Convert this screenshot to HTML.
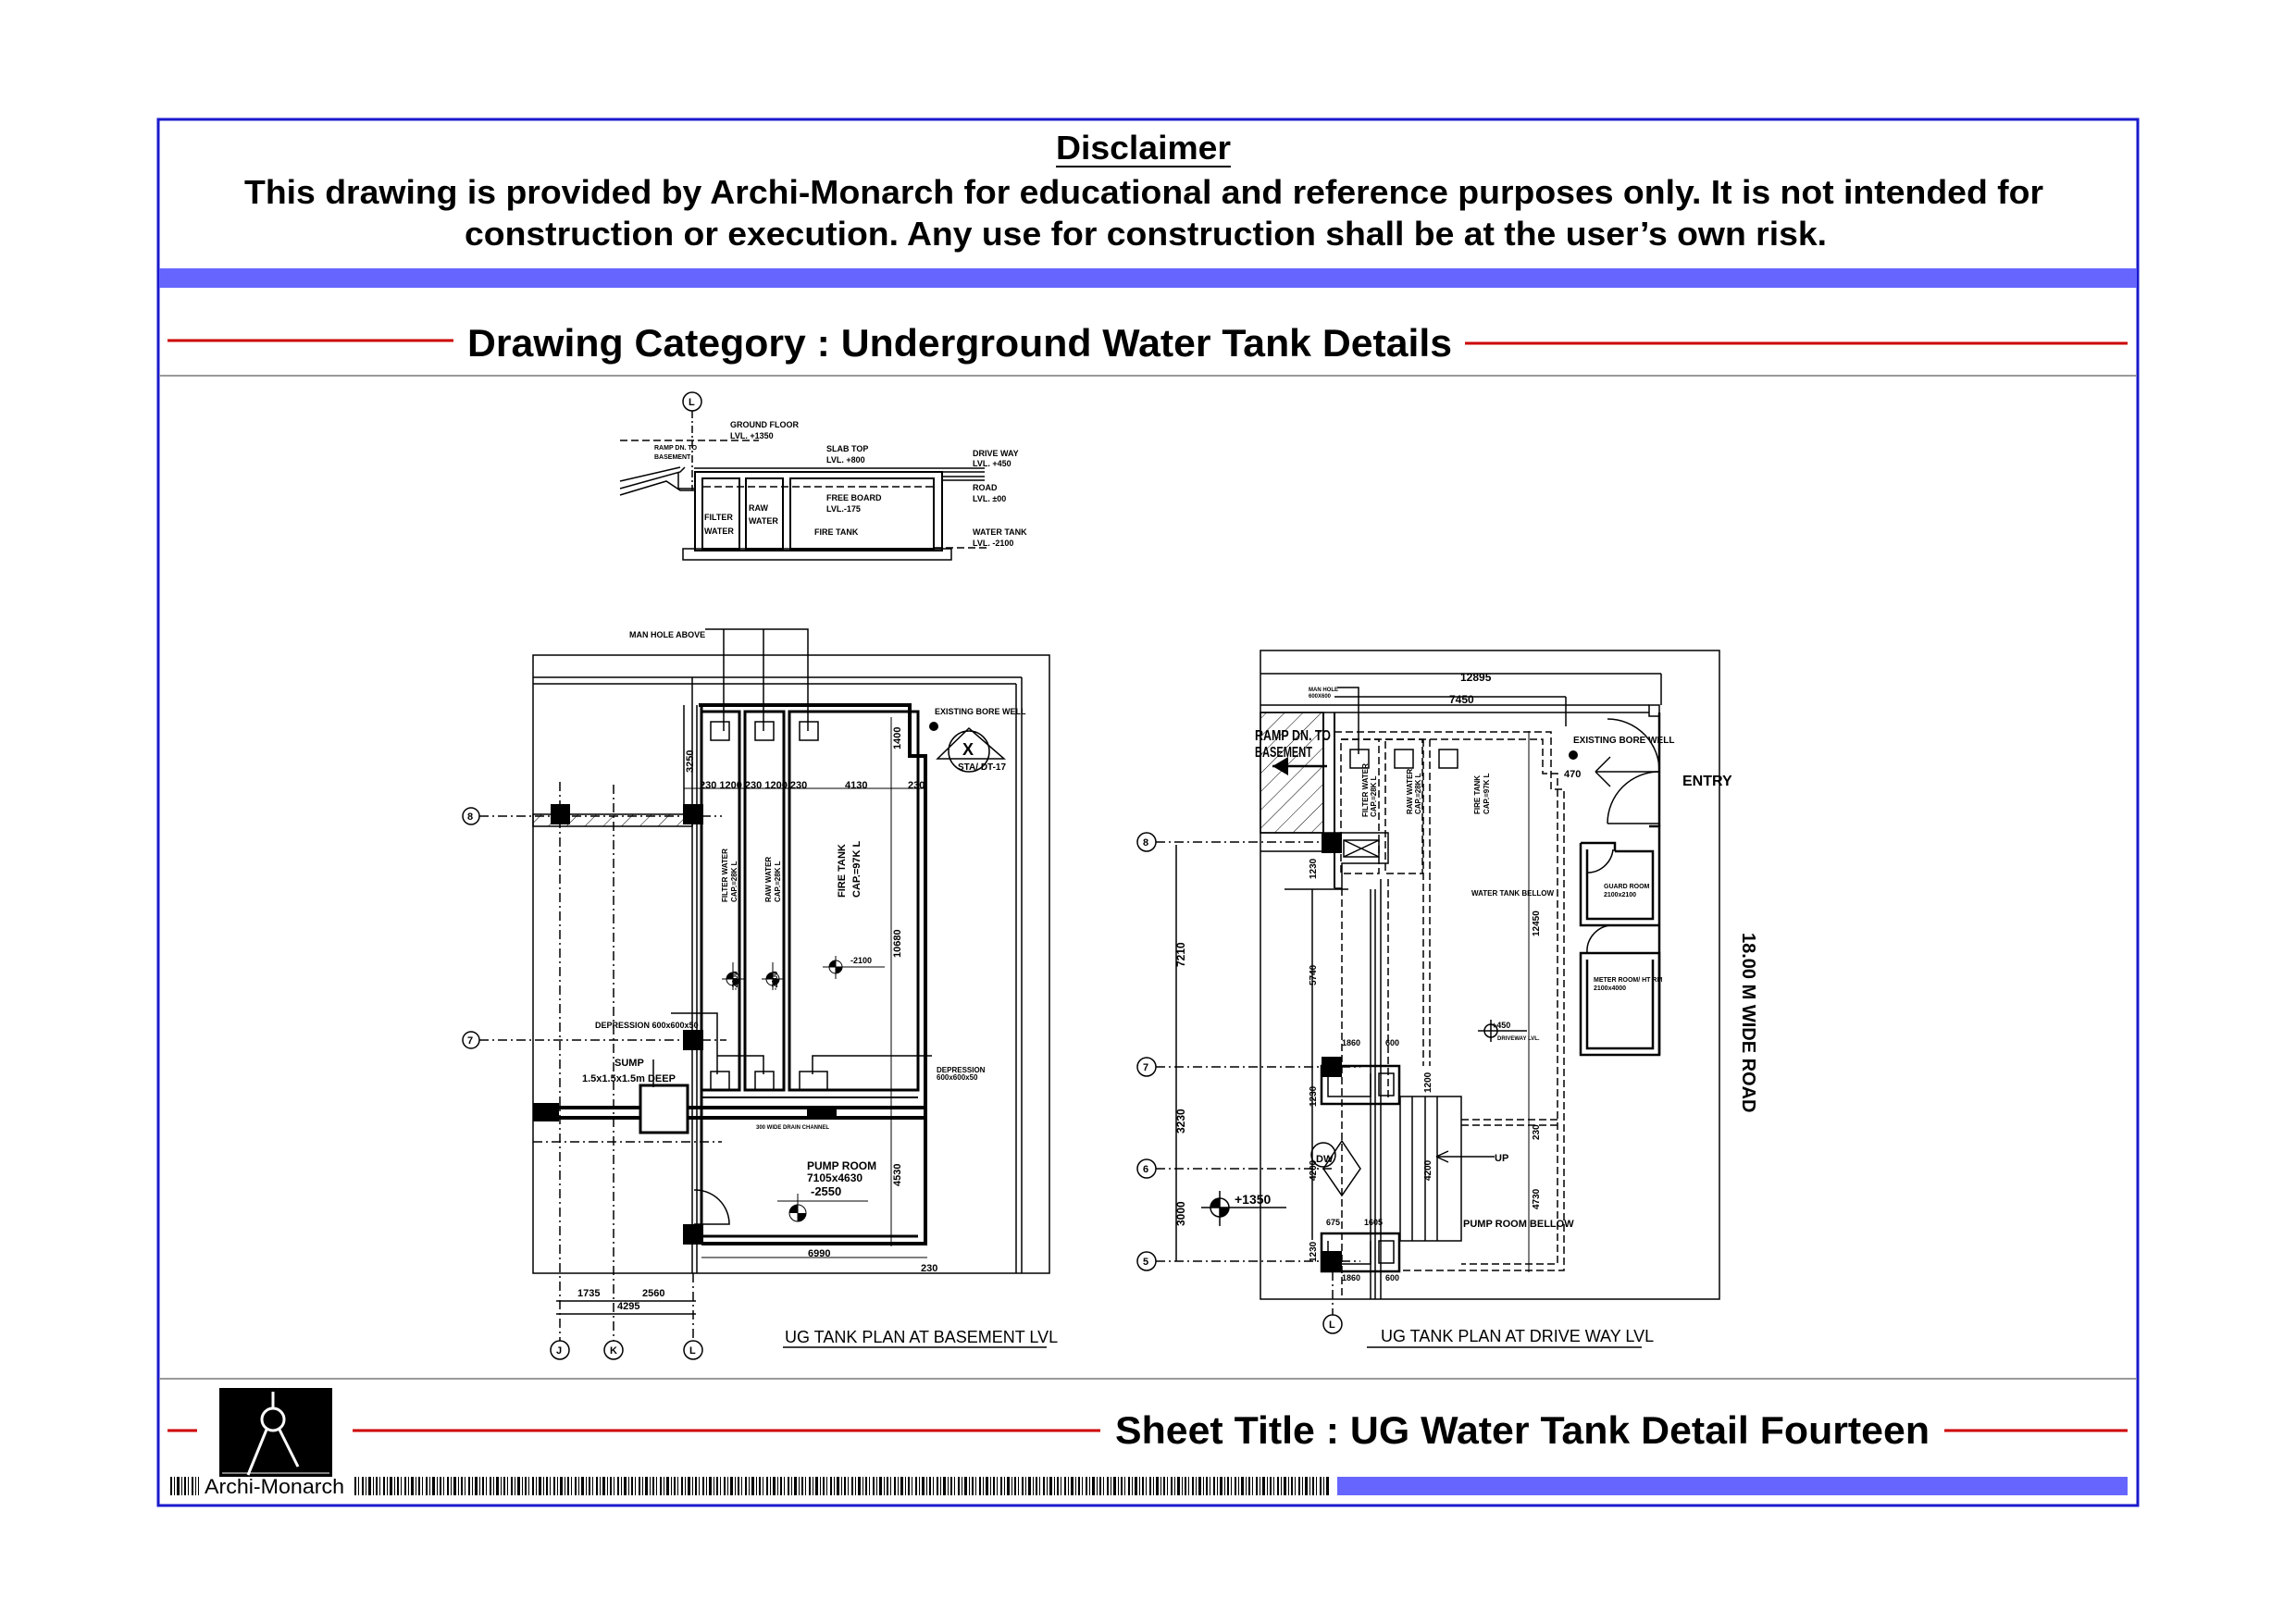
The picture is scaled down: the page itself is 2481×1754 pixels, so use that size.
<!DOCTYPE html>
<html><head><meta charset="utf-8"><style>
html,body{margin:0;padding:0;background:#fff;}
svg{display:block;}
text{font-family:"Liberation Sans",sans-serif;}
</style></head><body>
<svg width="2481" height="1754" viewBox="0 0 2481 1754" xmlns="http://www.w3.org/2000/svg">
<defs>
<pattern id="bc" width="23" height="20" patternUnits="userSpaceOnUse">
<rect x="0" y="0" width="2" height="20" fill="#000"/><rect x="4" y="0" width="1" height="20" fill="#000"/><rect x="7" y="0" width="3" height="20" fill="#000"/><rect x="12" y="0" width="1" height="20" fill="#000"/><rect x="15" y="0" width="2" height="20" fill="#000"/><rect x="19" y="0" width="1" height="20" fill="#000"/>
</pattern>
<pattern id="hat" width="14" height="14" patternUnits="userSpaceOnUse" patternTransform="rotate(45)">
<line x1="0" y1="0" x2="0" y2="14" stroke="#000" stroke-width="1"/></pattern>
</defs>
<!-- frame -->
<rect x="171" y="129" width="2139" height="1498" fill="none" stroke="#1a1acc" stroke-width="3"/>
<rect x="172" y="290" width="2137" height="21" fill="#6666ff"/>
<line x1="172" y1="406" x2="2309" y2="406" stroke="#999" stroke-width="2"/>
<line x1="172" y1="1490" x2="2309" y2="1490" stroke="#999" stroke-width="2"/>
<!-- disclaimer -->
<text x="1141" y="172" font-size="36" font-weight="bold" textLength="189" lengthAdjust="spacingAndGlyphs">Disclaimer</text>
<line x1="1141" y1="180" x2="1330" y2="180" stroke="#000" stroke-width="2"/>
<text x="264" y="220" font-size="36" font-weight="bold" textLength="1944" lengthAdjust="spacingAndGlyphs">This drawing is provided by Archi-Monarch for educational and reference purposes only. It is not intended for</text>
<text x="502" y="265" font-size="36" font-weight="bold" textLength="1472" lengthAdjust="spacingAndGlyphs">construction or execution. Any use for construction shall be at the user’s own risk.</text>
<!-- category -->
<line x1="181" y1="368" x2="490" y2="368" stroke="#c00" stroke-width="3"/>
<line x1="1583" y1="371" x2="2299" y2="371" stroke="#c00" stroke-width="3"/>
<text x="505" y="385" font-size="42" font-weight="bold" textLength="1064" lengthAdjust="spacingAndGlyphs">Drawing Category : Underground Water Tank Details</text>
<!-- footer -->
<line x1="181" y1="1546" x2="213" y2="1546" stroke="#c00" stroke-width="3"/>
<line x1="381" y1="1546" x2="1189" y2="1546" stroke="#c00" stroke-width="3"/>
<line x1="2101" y1="1546" x2="2299" y2="1546" stroke="#c00" stroke-width="3"/>
<text x="1205" y="1560" font-size="42" font-weight="bold" textLength="880" lengthAdjust="spacingAndGlyphs">Sheet Title : UG Water Tank Detail Fourteen</text>
<rect x="237" y="1500" width="122" height="96" fill="#000"/>
<g stroke="#fff" stroke-width="3" fill="none">
<line x1="295" y1="1504" x2="295" y2="1523"/><circle cx="295" cy="1534" r="12"/>
<line x1="288" y1="1545" x2="268" y2="1594"/><line x1="302" y1="1545" x2="322" y2="1585"/>
<line x1="240" y1="1592" x2="356" y2="1592" stroke-width="1"/></g>
<rect x="181" y="1596" width="34" height="20" fill="url(#bc)"/>
<text x="221" y="1614" font-size="22" textLength="151" lengthAdjust="spacingAndGlyphs">Archi-Monarch</text>
<rect x="381" y="1596" width="1056" height="20" fill="url(#bc)"/>
<rect x="1445" y="1596" width="854" height="20" fill="#6666ff"/>

<!-- ===== SECTION ===== -->
<g stroke="#000" fill="none" stroke-width="1.5">
<circle cx="748" cy="434" r="10"/>
<line x1="748" y1="444" x2="748" y2="530" stroke-dasharray="8,3,2,3"/>
<line x1="670" y1="476" x2="820" y2="476" stroke-dasharray="8,4"/>
<line x1="750" y1="506" x2="1064" y2="506"/><line x1="750" y1="510" x2="1064" y2="510"/><line x1="1018" y1="515" x2="1064" y2="515"/>
<line x1="1018" y1="519" x2="1064" y2="519"/>
<rect x="751" y="510" width="267" height="85" stroke-width="2"/>
<path d="M738 593 L1028 593 L1028 605 L738 605 Z"/>
<rect x="759" y="517" width="40" height="76" stroke-width="2"/>
<rect x="806" y="517" width="40" height="76" stroke-width="2"/>
<rect x="854" y="517" width="155" height="76" stroke-width="2"/>
<line x1="760" y1="526" x2="1010" y2="526" stroke-dasharray="8,4"/>
<line x1="1010" y1="592" x2="1070" y2="592" stroke-dasharray="8,4"/>
<path d="M670 528 L735 510 L740 505 M670 520 L735 505 M670 535 L720 520 L735 530 L750 530"/>
<path d="M733 510 L733 528 L750 528"/>
</g>
<g font-size="9" font-weight="bold">
<text x="789" y="462">GROUND FLOOR</text><text x="789" y="474">LVL. +1350</text>
<text x="893" y="488">SLAB TOP</text><text x="893" y="500">LVL. +800</text>
<text x="1051" y="493">DRIVE WAY</text><text x="1051" y="504">LVL. +450</text>
<text x="1051" y="530">ROAD</text><text x="1051" y="542">LVL. ±00</text>
<text x="1051" y="578">WATER TANK</text><text x="1051" y="590">LVL. -2100</text>
<text x="893" y="541">FREE BOARD</text><text x="893" y="553">LVL.-175</text>
<text x="707" y="486" font-size="7">RAMP DN. TO</text><text x="707" y="496" font-size="7">BASEMENT</text>
<text x="761" y="562">FILTER</text><text x="761" y="577">WATER</text>
<text x="809" y="552">RAW</text><text x="809" y="566">WATER</text>
<text x="880" y="578">FIRE TANK</text>
</g>

<!-- ===== BASEMENT PLAN ===== -->
<g stroke="#000" fill="none" stroke-width="1.5">
<rect x="576" y="708" width="558" height="668"/>
<line x1="576" y1="732" x2="1104" y2="732"/><line x1="576" y1="739" x2="1098" y2="739"/>
<line x1="1104" y1="732" x2="1104" y2="1376"/><line x1="1098" y1="739" x2="1098" y2="1376"/>
<line x1="748" y1="732" x2="748" y2="1376"/><line x1="753" y1="762" x2="753" y2="1376"/>
<path d="M755 762 L983 762 L983 817 L1000 817 L1000 1344 L758 1344" stroke-width="4"/>
<rect x="758" y="769" width="41" height="409" stroke-width="3"/>
<rect x="805" y="769" width="42" height="409" stroke-width="3"/>
<rect x="853" y="769" width="139" height="409" stroke-width="3"/>
<line x1="758" y1="762" x2="758" y2="1344" stroke-width="3"/>
<line x1="758" y1="1186" x2="992" y2="1186" stroke-width="2"/>
<line x1="576" y1="1197" x2="1000" y2="1197" stroke-width="4"/>
<line x1="576" y1="1208" x2="1000" y2="1208" stroke-width="4"/>
<line x1="758" y1="1336" x2="992" y2="1336" stroke-width="3"/>
<rect x="692" y="1173" width="51" height="51" stroke-width="3" fill="#fff"/>
<rect x="768" y="780" width="20" height="20"/><rect x="816" y="780" width="20" height="20"/><rect x="864" y="780" width="20" height="20"/>
<path d="M762 680 L873 680 L873 790 M782 680 L782 790 M825 680 L825 790"/>
<rect x="768" y="1158" width="20" height="20"/><rect x="816" y="1158" width="20" height="20"/><rect x="864" y="1158" width="30" height="20"/>
<path d="M725 1095 L775 1095 L775 1161 M775 1141 L825 1141 L825 1161 M878 1161 L878 1141 L1007 1141 M706 1145 L706 1175"/>
<circle cx="509" cy="882" r="9"/><circle cx="509" cy="1124" r="9"/>
<line x1="518" y1="882" x2="780" y2="882" stroke-dasharray="10,4,2,4"/>
<line x1="518" y1="1124" x2="785" y2="1124" stroke-dasharray="10,4,2,4"/>
<line x1="576" y1="1234" x2="780" y2="1234" stroke-dasharray="10,4,2,4"/>
<line x1="605" y1="845" x2="605" y2="1449" stroke-dasharray="10,4,2,4"/>
<line x1="663" y1="848" x2="663" y2="1449" stroke-dasharray="10,4,2,4"/>
<line x1="749" y1="1376" x2="749" y2="1449" stroke-dasharray="10,4,2,4"/>
<circle cx="605" cy="1459" r="10"/><circle cx="663" cy="1459" r="10"/><circle cx="749" cy="1459" r="10"/>
<line x1="601" y1="1406" x2="752" y2="1406"/><line x1="601" y1="1420" x2="752" y2="1420"/>
<line x1="739" y1="762" x2="739" y2="870"/><line x1="739" y1="852" x2="999" y2="852" stroke-width="1"/>
<line x1="963" y1="775" x2="963" y2="1347" stroke-width="1"/>
<line x1="758" y1="1359" x2="1002" y2="1359" stroke-width="1"/>
<path d="M750 1286 A37 37 0 0 1 788 1323 L750 1323"/>
<rect x="576" y="880" width="172" height="13" fill="url(#hat)"/>
<g stroke-width="1"><circle cx="792" cy="1058" r="7"/><line x1="780" y1="1058" x2="804" y2="1058"/><line x1="792" y1="1040" x2="792" y2="1070"/>
<circle cx="835" cy="1058" r="7"/><line x1="823" y1="1058" x2="847" y2="1058"/><line x1="835" y1="1040" x2="835" y2="1070"/>
<circle cx="903" cy="1045" r="7"/><line x1="889" y1="1045" x2="956" y2="1045"/><line x1="903" y1="1033" x2="903" y2="1058"/>
<circle cx="862" cy="1311" r="9"/><line x1="840" y1="1298" x2="938" y2="1298"/><line x1="862" y1="1290" x2="862" y2="1320"/></g>
<circle cx="1047" cy="812" r="22"/><path d="M1013 820 L1047 787 L1085 820 Z"/>
</g>
<g fill="#000">
<rect x="595" y="869" width="21" height="22"/><rect x="738" y="869" width="22" height="22"/>
<rect x="738" y="1113" width="22" height="22"/><rect x="738" y="1323" width="22" height="22"/>
<rect x="872" y="1197" width="32" height="11"/><rect x="576" y="1192" width="28" height="20"/>
<circle cx="1009" cy="785" r="5"/>
<path d="M792 1058 L799 1058 A7 7 0 0 1 792 1065 Z M792 1058 L785 1058 A7 7 0 0 1 792 1051 Z"/>
<path d="M835 1058 L842 1058 A7 7 0 0 1 835 1065 Z M835 1058 L828 1058 A7 7 0 0 1 835 1051 Z"/>
<path d="M903 1045 L910 1045 A7 7 0 0 1 903 1052 Z M903 1045 L896 1045 A7 7 0 0 1 903 1038 Z"/>
<path d="M862 1311 L871 1311 A9 9 0 0 1 862 1320 Z M862 1311 L853 1311 A9 9 0 0 1 862 1302 Z"/>
</g>
<g font-size="9" font-weight="bold">
<text x="680" y="689">MAN HOLE ABOVE</text>
<text x="1010" y="772">EXISTING BORE WELL</text>
<text x="1035" y="832" font-size="10">STA/ DT-17</text>
<text x="1040" y="816" font-size="18">X</text>
<text x="756" y="852" font-size="11">230 1200 230 1200 230</text>
<text x="913" y="852" font-size="11">4130</text><text x="981" y="852" font-size="11">230</text>
<text x="720" y="834" font-size="11" transform="rotate(-90 735 820)">3250</text>
<text x="643" y="1111">DEPRESSION 600x600x50</text>
<text x="1012" y="1159" font-size="8">DEPRESSION</text><text x="1012" y="1167" font-size="8">600x600x50</text>
<text x="664" y="1152" font-size="11">SUMP</text><text x="629" y="1169" font-size="11">1.5x1.5x1.5m DEEP</text>
<text x="817" y="1220" font-size="6">300 WIDE DRAIN CHANNEL</text>
<text x="872" y="1264" font-size="12">PUMP ROOM</text><text x="872" y="1277" font-size="12">7105x4630</text><text x="876" y="1292" font-size="13">-2550</text>
<text x="919" y="1041" font-size="9">-2100</text>
<text x="873" y="1358" font-size="11">6990</text><text x="995" y="1374" font-size="11">230</text>
<text x="624" y="1401" font-size="11">1735</text><text x="694" y="1401" font-size="11">2560</text><text x="667" y="1415" font-size="11">4295</text>
<text x="505" y="886" font-size="11">8</text><text x="505" y="1128" font-size="11">7</text>
<text x="601" y="1463" font-size="11">J</text><text x="659" y="1463" font-size="11">K</text><text x="745" y="1463" font-size="11">L</text>
<text x="744" y="438" font-size="11">L</text>
</g>
<g font-size="8" font-weight="bold">
<text transform="translate(786 975) rotate(-90)">FILTER WATER</text><text transform="translate(796 975) rotate(-90)">CAP.=28K L</text>
<text transform="translate(833 975) rotate(-90)">RAW WATER</text><text transform="translate(843 975) rotate(-90)">CAP.=28K L</text>
<text transform="translate(913 970) rotate(-90)" font-size="11">FIRE TANK</text><text transform="translate(929 970) rotate(-90)" font-size="11">CAP.=97K L</text>
<text transform="translate(973 1035) rotate(-90)" font-size="11">10680</text>
<text transform="translate(973 1282) rotate(-90)" font-size="11">4530</text>
<text transform="translate(973 810) rotate(-90)" font-size="11">1400</text>
<text transform="translate(797 1070) rotate(-90)">-2100</text><text transform="translate(840 1070) rotate(-90)">-2100</text>
</g>
<text x="848" y="1451" font-size="18">UG TANK PLAN AT BASEMENT LVL</text>
<line x1="846" y1="1456" x2="1131" y2="1456" stroke="#000" stroke-width="1.5"/>

<!-- ===== DRIVE WAY PLAN ===== -->
<g stroke="#000" fill="none" stroke-width="1.5">
<rect x="1362" y="703" width="496" height="701"/>
<line x1="1362" y1="728" x2="1795" y2="728"/><line x1="1442" y1="753" x2="1692" y2="753"/>
<line x1="1795" y1="728" x2="1795" y2="762"/><line x1="1692" y1="753" x2="1692" y2="785"/>
<line x1="1362" y1="762" x2="1782" y2="762"/><line x1="1362" y1="770" x2="1782" y2="770"/>
<rect x="1782" y="762" width="11" height="12"/>
<rect x="1362" y="770" width="68" height="130" fill="url(#hat)"/>
<line x1="1430" y1="770" x2="1430" y2="900" stroke-width="2"/><line x1="1442" y1="770" x2="1442" y2="960" stroke-width="2"/>
<path d="M1362 900 L1500 900 L1500 933 L1450 933 L1450 960 L1442 960 M1362 920 L1428 920"/>
<rect x="1452" y="908" width="38" height="18"/><path d="M1452 908 L1490 926 M1452 926 L1490 908"/>
<line x1="1375" y1="828" x2="1434" y2="828" stroke-width="2.5"/>
<g stroke-dasharray="8,4">
<path d="M1442 791 L1676 791 L1676 853 L1690 853 L1690 1373 L1513 1373"/>
<path d="M1449 799 L1667 799 L1667 836 L1683 836 L1683 1366 L1579 1366"/>
<rect x="1449" y="799" width="41" height="145"/><rect x="1497" y="799" width="40" height="145"/>
<path d="M1545 799 L1545 1152"/><path d="M1538 799 L1538 1152"/>
<path d="M1579 1210 L1683 1210 M1579 1216 L1683 1216"/>
<path d="M1450 960 L1450 1400 M1500 950 L1500 1190"/>
</g>
<line x1="1652" y1="790" x2="1652" y2="1375" stroke-width="1"/>
<rect x="1459" y="810" width="20" height="20"/><rect x="1507" y="810" width="20" height="20"/><rect x="1555" y="810" width="20" height="20"/>
<path d="M1445 743 L1468 743 L1468 815"/>
<line x1="1388" y1="961" x2="1457" y2="961"/>
<line x1="1418" y1="961" x2="1418" y2="1340"/>
<line x1="1481" y1="961" x2="1481" y2="1404"/><line x1="1486" y1="961" x2="1486" y2="1404"/><line x1="1492" y1="950" x2="1492" y2="1404"/>
<circle cx="1239" cy="910" r="10"/><circle cx="1239" cy="1153" r="10"/><circle cx="1239" cy="1263" r="10"/><circle cx="1239" cy="1363" r="10"/>
<g stroke-dasharray="10,4,2,4">
<line x1="1249" y1="910" x2="1430" y2="910"/><line x1="1249" y1="1153" x2="1470" y2="1153"/>
<line x1="1249" y1="1263" x2="1440" y2="1263"/><line x1="1249" y1="1363" x2="1470" y2="1363"/>
<line x1="1440" y1="1374" x2="1440" y2="1421"/>
</g>
<line x1="1271" y1="913" x2="1271" y2="1363"/>
<circle cx="1440" cy="1431" r="10"/>
<path d="M1428 1152 L1512 1152 L1512 1193 L1428 1193 Z" stroke-width="2.5"/>
<path d="M1435 1160 L1435 1185 L1481 1185 L1481 1160" />
<rect x="1490" y="1160" width="16" height="24"/>
<path d="M1428 1333 L1512 1333 L1512 1374 L1428 1374 Z" stroke-width="2.5"/>
<path d="M1435 1341 L1435 1366 L1481 1366 L1481 1341"/>
<rect x="1490" y="1341" width="16" height="24"/>
<rect x="1513" y="1185" width="66" height="156"/>
<line x1="1526" y1="1185" x2="1526" y2="1341"/><line x1="1540" y1="1185" x2="1540" y2="1341"/><line x1="1553" y1="1185" x2="1553" y2="1341"/>
<line x1="1552" y1="1250" x2="1615" y2="1250"/><path d="M1552 1250 L1565 1244 M1552 1250 L1565 1256"/>
<path d="M1450 1233 L1470 1263 L1450 1292 L1430 1263 Z"/>
<circle cx="1430" cy="1248" r="13"/>
<circle cx="1318" cy="1305" r="10"/><line x1="1298" y1="1305" x2="1390" y2="1305"/><line x1="1318" y1="1287" x2="1318" y2="1325"/>
<circle cx="1611" cy="1114" r="7"/><line x1="1597" y1="1114" x2="1650" y2="1114"/><line x1="1611" y1="1102" x2="1611" y2="1126"/>
<path d="M1708 911 L1745 911 L1745 920 M1708 911 L1708 1000 L1793 1000 M1715 918 L1715 993 L1786 993 L1786 920 L1745 920" stroke-width="2.5"/>
<path d="M1708 1030 L1793 1030 L1793 1140 L1708 1140 Z M1715 1037 L1715 1133 L1786 1133 L1786 1037" stroke-width="2.5"/>
<path d="M1782 893 L1793 893 L1793 1140" stroke-width="2.5"/>
<path d="M1793 770 L1793 893" stroke-width="2.5"/>
<path d="M1737 777 A56 56 0 0 1 1793 834 M1737 890 A56 56 0 0 1 1793 834"/>
<line x1="1737" y1="890" x2="1793" y2="890"/>
<path d="M1724 834 L1793 834 M1724 834 L1740 818 M1724 834 L1740 850"/>
<path d="M1715 943 A28 28 0 0 0 1743 918"/>
<path d="M1715 1030 A28 28 0 0 1 1743 1000"/>
</g>
<g fill="#000">
<rect x="1428" y="900" width="22" height="22"/>
<rect x="1428" y="1142" width="22" height="22"/><rect x="1428" y="1352" width="22" height="22"/>
<circle cx="1700" cy="816" r="5"/>
<path d="M1318 1305 L1328 1305 A10 10 0 0 1 1318 1315 Z M1318 1305 L1308 1305 A10 10 0 0 1 1318 1295 Z"/>
<path d="M1375 828 L1392 818 L1392 838 Z"/>
</g>
<g font-weight="bold">
<text x="1578" y="736" font-size="12">12895</text><text x="1566" y="760" font-size="12">7450</text>
<text x="1414" y="747" font-size="6">MAN HOLE</text><text x="1414" y="754" font-size="6">600X600</text>
<text x="1356" y="800" font-size="16" textLength="82" lengthAdjust="spacingAndGlyphs">RAMP DN. TO</text>
<text x="1356" y="818" font-size="16" textLength="62" lengthAdjust="spacingAndGlyphs">BASEMENT</text>
<text x="1700" y="803" font-size="10">EXISTING BORE WELL</text>
<text x="1690" y="840" font-size="11">470</text>
<text x="1818" y="849" font-size="16">ENTRY</text>
<text x="1590" y="968" font-size="8">WATER TANK BELLOW</text>
<text x="1733" y="960" font-size="7">GUARD ROOM</text><text x="1733" y="969" font-size="7">2100x2100</text>
<text x="1722" y="1061" font-size="7">METER ROOM/ HT RM</text><text x="1722" y="1070" font-size="7">2100x4000</text>
<text x="1612" y="1111" font-size="9">+450</text><text x="1618" y="1124" font-size="6">DRIVEWAY LVL.</text>
<text x="1334" y="1301" font-size="14">+1350</text>
<text x="1615" y="1255" font-size="11">UP</text>
<text x="1581" y="1326" font-size="11">PUMP ROOM BELLOW</text>
<text x="1450" y="1130" font-size="9">1860</text><text x="1497" y="1130" font-size="9">600</text>
<text x="1433" y="1324" font-size="9">675</text><text x="1474" y="1324" font-size="9">1605</text>
<text x="1450" y="1384" font-size="9">1860</text><text x="1497" y="1384" font-size="9">600</text>
<text x="1422" y="1256" font-size="11">DW</text>
<text x="1235" y="914" font-size="11">8</text><text x="1235" y="1157" font-size="11">7</text><text x="1235" y="1267" font-size="11">6</text><text x="1235" y="1367" font-size="11">5</text>
<text x="1436" y="1435" font-size="11">L</text>
</g>
<g font-weight="bold" font-size="10">
<text transform="translate(1478 883) rotate(-90)" font-size="8">FILTER WATER</text><text transform="translate(1487 883) rotate(-90)" font-size="8">CAP.=28K L</text>
<text transform="translate(1526 880) rotate(-90)" font-size="8">RAW WATER</text><text transform="translate(1535 880) rotate(-90)" font-size="8">CAP.=28K L</text>
<text transform="translate(1599 880) rotate(-90)" font-size="8">FIRE TANK</text><text transform="translate(1609 880) rotate(-90)" font-size="8">CAP.=97K L</text>
<text transform="translate(1280 1045) rotate(-90)" font-size="12">7210</text>
<text transform="translate(1280 1225) rotate(-90)" font-size="12">3230</text>
<text transform="translate(1280 1325) rotate(-90)" font-size="12">3000</text>
<text transform="translate(1422 1065) rotate(-90)">5740</text>
<text transform="translate(1422 950) rotate(-90)">1230</text>
<text transform="translate(1422 1196) rotate(-90)">1230</text>
<text transform="translate(1422 1276) rotate(-90)">4200</text>
<text transform="translate(1422 1364) rotate(-90)">1230</text>
<text transform="translate(1546 1276) rotate(-90)">4200</text>
<text transform="translate(1546 1181) rotate(-90)">1200</text>
<text transform="translate(1663 1012) rotate(-90)">12450</text>
<text transform="translate(1663 1307) rotate(-90)">4730</text>
<text transform="translate(1663 1232) rotate(-90)">230</text>
</g>
<text transform="translate(1883 1008) rotate(90)" font-size="20" font-weight="bold">18.00 M   WIDE   ROAD</text>
<text x="1492" y="1450" font-size="18">UG TANK PLAN AT DRIVE WAY LVL</text>
<line x1="1477" y1="1456" x2="1774" y2="1456" stroke="#000" stroke-width="1.5"/>
</svg>
</body></html>
